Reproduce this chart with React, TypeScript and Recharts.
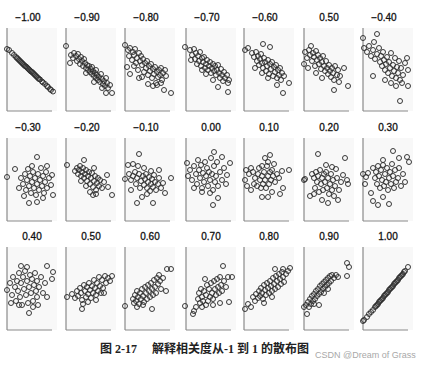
import { ScatterChart, Scatter, XAxis, YAxis, ReferenceLine, ReferenceArea } from 'recharts'

// panel titles, read left-to-right, top-to-bottom (the scan prints "0.50" in slot 6)
const titles = [
  '−1.00', '−0.90', '−0.80', '−0.70', '−0.60', '0.50', '−0.40',
  '−0.30', '−0.20', '−0.10', '0.00', '0.10', '0.20', '0.30',
  '0.40', '0.50', '0.60', '0.70', '0.80', '0.90', '1.00',
]

// points per panel: [x, y], x to the right of the y axis, y measured down from the top
type Pt = [number, number]

const rN100: Pt[] = [
  [0, 21], [2, 22], [5, 25], [7, 27], [9, 29], [10, 30], [11, 31], [12, 32], [13, 33], [14, 34],
  [15, 35], [16, 36], [17, 37], [18, 38], [19, 38.5], [20, 39.5], [21, 40.5], [22, 41.5], [23, 42.5],
  [24, 43.5], [25, 44], [26, 45], [27, 46], [28, 47], [29, 48], [30, 49], [31, 50], [32, 51],
  [33, 51.5], [35, 53.5], [36, 54.5], [38, 56], [40, 58], [41, 59], [43, 61], [44, 62], [46, 63.5],
]
const rN090: Pt[] = [
  [0, 18], [4, 35], [5, 27], [7, 30], [8, 25], [10, 28], [11, 33], [12, 26], [13, 31], [14, 36],
  [15, 29], [16, 33], [17, 38], [18, 31], [19, 35], [20, 40], [21, 37], [22, 42], [23, 38], [24, 44],
  [25, 41], [26, 46], [26, 39], [27, 43], [28, 48], [29, 45], [30, 50], [30, 42], [31, 47], [32, 52],
  [33, 49], [34, 54], [35, 46], [36, 51], [37, 56], [38, 53], [39, 58], [40, 50], [41, 55], [42, 60],
  [44, 57], [40, 65], [46, 65], [36, 60], [28, 54], [20, 45],
]
const rN080: Pt[] = [
  [0, 17], [3, 22], [5, 20], [8, 24], [10, 21], [4, 28], [7, 32], [9, 27], [12, 30], [14, 25],
  [16, 28], [2, 39], [5, 46], [9, 38], [11, 35], [13, 42], [15, 33], [17, 37], [18, 31], [19, 44],
  [20, 35], [21, 40], [22, 33], [23, 47], [24, 38], [25, 43], [26, 36], [27, 50], [28, 41], [29, 46],
  [30, 39], [31, 55], [32, 44], [33, 49], [34, 42], [35, 47], [36, 40], [37, 52], [38, 45], [40, 42],
  [41, 48], [23, 56], [28, 58], [32, 57], [36, 55], [39, 62], [46, 65], [17, 49], [14, 50],
]
const rN070: Pt[] = [
  [-1, 19], [4, 22], [6, 27], [8, 21], [10, 25], [5, 32], [9, 31], [12, 28], [14, 24], [16, 30],
  [11, 36], [13, 33], [15, 38], [17, 34], [18, 29], [19, 40], [20, 36], [21, 32], [22, 42], [23, 38],
  [24, 34], [25, 45], [26, 40], [27, 36], [28, 43], [29, 38], [30, 47], [31, 42], [32, 37], [33, 45],
  [34, 50], [35, 41], [36, 47], [37, 53], [38, 44], [39, 50], [41, 47], [42, 55], [43, 52], [42, 64],
  [32, 59], [27, 52], [20, 46], [16, 42],
]
const rN060: Pt[] = [
  [1, 22], [4, 20], [19, 16], [26, 19], [8, 25], [10, 29], [12, 24], [13, 33], [14, 28], [15, 37],
  [16, 31], [17, 26], [18, 35], [19, 40], [20, 30], [21, 34], [22, 43], [23, 38], [24, 32], [25, 46],
  [26, 36], [27, 41], [28, 34], [29, 48], [30, 39], [31, 44], [32, 37], [33, 50], [34, 42], [35, 47],
  [36, 40], [37, 52], [38, 45], [40, 48], [33, 57], [39, 65], [45, 55], [11, 40], [24, 50], [18, 45],
]
const rN050: Pt[] = [
  [7, 18], [1, 24], [3, 30], [0, 36], [5, 22], [6, 27], [8, 33], [9, 25], [10, 29], [11, 38],
  [12, 23], [13, 32], [14, 27], [15, 36], [16, 30], [17, 41], [18, 34], [19, 28], [20, 38], [21, 43],
  [22, 33], [23, 40], [24, 46], [25, 37], [26, 43], [27, 49], [28, 40], [29, 45], [30, 52], [31, 38],
  [33, 47], [34, 42], [35, 54], [36, 48], [30, 62], [44, 58], [40, 40], [12, 45], [4, 40], [18, 50],
]
const rN040: Pt[] = [
  [0, 10], [11, 14], [14, 6], [1, 20], [4, 24], [6, 18], [8, 28], [10, 22], [12, 31], [14, 26],
  [16, 20], [17, 34], [18, 28], [19, 38], [20, 24], [21, 32], [22, 42], [23, 36], [24, 29], [25, 45],
  [26, 34], [27, 40], [28, 25], [29, 48], [30, 37], [31, 43], [32, 30], [33, 50], [34, 39], [35, 45],
  [36, 33], [37, 52], [38, 40], [40, 47], [42, 35], [44, 30], [45, 42], [45, 58], [37, 73], [10, 48],
  [28, 55], [33, 58], [22, 52], [39, 55],
]
const rN030: Pt[] = [
  [0, 39], [8, 31], [30, 19], [14, 40], [16, 46], [18, 36], [19, 52], [20, 42], [21, 31], [22, 48],
  [23, 38], [24, 55], [25, 44], [26, 34], [27, 50], [28, 40], [29, 57], [30, 46], [31, 36], [32, 52],
  [33, 42], [34, 30], [35, 48], [36, 38], [37, 55], [38, 44], [39, 34], [40, 50], [42, 40], [44, 47],
  [45, 37], [46, 57], [22, 65], [30, 64], [12, 50], [17, 58], [36, 60], [25, 28], [40, 28],
]
const rN020: Pt[] = [
  [1, 27], [18, 22], [28, 30], [41, 37], [46, 57], [42, 49], [27, 57], [9, 33], [11, 30], [12, 36],
  [13, 32], [14, 28], [15, 38], [16, 34], [17, 30], [18, 40], [19, 36], [20, 32], [21, 43], [22, 38],
  [23, 34], [24, 46], [25, 40], [26, 35], [27, 49], [28, 43], [29, 38], [30, 52], [31, 45], [32, 40],
  [33, 48], [34, 42], [36, 50], [24, 54], [20, 48], [38, 44], [15, 43], [30, 56],
]
const rN010: Pt[] = [
  [14, 16], [46, 40], [0, 41], [3, 27], [8, 26], [13, 28], [19, 30], [26, 33], [4, 36], [6, 42],
  [8, 38], [10, 34], [11, 46], [12, 40], [14, 36], [15, 50], [16, 43], [18, 38], [19, 47], [20, 41],
  [21, 36], [22, 50], [23, 44], [24, 39], [25, 53], [26, 46], [27, 41], [28, 49], [29, 37], [30, 44],
  [31, 52], [33, 46], [34, 40], [36, 50], [38, 45], [40, 55], [12, 65], [28, 65], [17, 59], [6, 52],
  [34, 32], [22, 56],
]
const r000: Pt[] = [
  [1, 25], [44, 25], [27, 67], [32, 60], [28, 14], [36, 19], [2, 38], [4, 32], [6, 42], [8, 28],
  [10, 36], [11, 46], [12, 22], [13, 32], [14, 40], [15, 27], [16, 50], [17, 35], [18, 44], [19, 24],
  [20, 38], [21, 30], [22, 48], [23, 34], [24, 42], [25, 20], [26, 36], [27, 52], [28, 28], [29, 44],
  [30, 38], [31, 24], [32, 48], [34, 34], [36, 42], [38, 30], [41, 37], [16, 54], [24, 55], [8, 50],
  [40, 46],
]
const r010: Pt[] = [
  [21, 20], [26, 17], [24, 24], [30, 26], [18, 28], [28, 32], [2, 32], [5, 36], [7, 30], [9, 34],
  [10, 46], [11, 40], [13, 48], [14, 36], [15, 30], [16, 42], [17, 50], [18, 38], [19, 46], [20, 34],
  [21, 42], [22, 50], [23, 28], [24, 38], [25, 46], [26, 34], [27, 42], [28, 54], [29, 38], [31, 44],
  [33, 36], [35, 40], [38, 33], [45, 32], [39, 50], [36, 56], [18, 59], [24, 59], [3, 48], [7, 52],
  [1, 42],
]
const r020: Pt[] = [
  [14, 16], [41, 20], [0, 42], [1, 41], [22, 27], [28, 29], [32, 31], [8, 36], [10, 40], [11, 50],
  [12, 34], [13, 44], [14, 38], [15, 54], [16, 32], [17, 46], [18, 40], [19, 52], [20, 36], [21, 44],
  [22, 34], [23, 50], [24, 40], [25, 56], [26, 46], [27, 36], [28, 52], [29, 42], [30, 58], [31, 48],
  [33, 40], [35, 52], [37, 44], [43, 42], [44, 46], [24, 65], [18, 62], [34, 62], [6, 58], [10, 56],
  [39, 37],
]
const r030: Pt[] = [
  [30, 13], [44, 19], [46, 24], [36, 20], [20, 22], [0, 36], [3, 39], [5, 35], [2, 46], [10, 30],
  [12, 40], [13, 34], [14, 46], [15, 28], [16, 38], [17, 50], [18, 32], [19, 42], [20, 27], [21, 48],
  [22, 36], [23, 44], [24, 30], [25, 52], [26, 40], [27, 34], [28, 46], [29, 26], [30, 38], [31, 50],
  [32, 32], [33, 44], [35, 40], [36, 30], [38, 48], [40, 36], [42, 44], [10, 63], [15, 67], [26, 66],
  [20, 59], [8, 55],
]
const r040: Pt[] = [
  [14, 19], [20, 20], [40, 19], [46, 25], [45, 32], [22, 66], [0, 43], [40, 50], [3, 36], [5, 48],
  [6, 30], [8, 40], [9, 54], [10, 34], [11, 44], [12, 26], [13, 50], [14, 36], [15, 58], [16, 30],
  [17, 42], [18, 24], [19, 48], [20, 34], [21, 56], [22, 40], [23, 28], [24, 46], [25, 32], [26, 54],
  [27, 38], [28, 26], [29, 44], [30, 34], [31, 58], [32, 40], [34, 30], [36, 46], [38, 36], [30, 50],
  [4, 56], [12, 58], [26, 60],
]
const r050: Pt[] = [
  [1, 50], [6, 47], [9, 51], [11, 44], [12, 49], [14, 41], [15, 46], [16, 53], [17, 57], [16, 62],
  [18, 38], [19, 44], [20, 50], [21, 40], [22, 47], [23, 36], [24, 43], [25, 51], [26, 39], [27, 46],
  [28, 33], [29, 41], [30, 48], [31, 36], [32, 44], [33, 30], [34, 39], [35, 46], [36, 33], [37, 41],
  [39, 29], [40, 36], [42, 31], [44, 34], [46, 29], [30, 53], [22, 55], [38, 46],
]
const r060: Pt[] = [
  [0, 59], [42, 22], [46, 22], [41, 44], [27, 62], [8, 52], [9, 56], [10, 48], [11, 54], [12, 44],
  [13, 50], [14, 57], [15, 46], [16, 52], [17, 42], [18, 49], [19, 55], [20, 40], [21, 46], [22, 52],
  [23, 38], [24, 44], [25, 50], [26, 36], [27, 42], [28, 48], [29, 33], [30, 40], [31, 46], [32, 31],
  [33, 37], [35, 34], [36, 42], [38, 31], [34, 28], [18, 58], [12, 60],
]
const r070: Pt[] = [
  [-1, 59], [37, 19], [7, 67], [8, 64], [10, 60], [19, 32], [42, 30], [46, 30], [43, 55], [12, 52],
  [13, 46], [14, 56], [15, 42], [16, 50], [17, 54], [18, 44], [20, 48], [21, 38], [22, 54], [23, 42],
  [24, 50], [25, 36], [26, 46], [27, 52], [28, 34], [29, 42], [30, 48], [31, 32], [32, 40], [33, 46],
  [34, 30], [35, 38], [36, 44], [38, 34], [40, 40], [27, 58], [20, 58], [34, 56], [16, 60],
]
const r080: Pt[] = [
  [1, 62], [4, 57], [7, 60], [9, 50], [11, 54], [12, 47], [14, 51], [15, 44], [16, 49], [17, 41],
  [18, 46], [19, 52], [20, 38], [21, 43], [22, 48], [23, 36], [24, 41], [25, 46], [26, 34], [27, 39],
  [28, 44], [29, 31], [30, 37], [31, 42], [32, 29], [33, 34], [34, 40], [35, 27], [36, 32], [37, 37],
  [38, 25], [39, 30], [40, 35], [42, 27], [44, 24], [46, 21], [39, 22], [31, 22], [28, 50], [20, 56],
]
const r090: Pt[] = [
  [43, 16], [45, 20], [43, 29], [3, 67], [0, 60], [15, 58], [2, 58], [4, 55], [5, 60], [6, 52],
  [7, 57], [8, 49], [9, 54], [10, 47], [11, 52], [12, 44], [13, 49], [14, 42], [15, 47], [16, 39],
  [17, 45], [18, 37], [19, 42], [20, 35], [21, 40], [22, 33], [23, 38], [24, 31], [25, 36], [26, 29],
  [27, 34], [28, 28], [30, 31], [32, 28], [34, 30], [10, 57], [20, 46], [24, 42],
]
const r100: Pt[] = [
  [0, 74], [1, 73], [4, 70], [6, 67], [8, 65], [10, 63], [12, 60], [13, 59], [14, 58], [15, 57],
  [16, 55], [17, 54], [18, 53], [19, 52], [20, 51], [21, 49], [22, 48], [23, 47], [24, 46], [25, 45],
  [26, 43], [27, 42], [28, 41], [29, 40], [30, 39], [31, 37], [32, 36], [33, 35], [34, 34], [35, 33],
  [36, 31], [37, 30], [38, 29], [39, 28], [40, 27], [41, 25], [42, 24], [45, 20],
]

const panels: Pt[][] = [
  rN100, rN090, rN080, rN070, rN060, rN050, rN040,
  rN030, rN020, rN010, r000, r010, r020, r030,
  r040, r050, r060, r070, r080, r090, r100,
]

const colX = [7, 66, 125, 186, 244, 304, 363]
const rowTop = [28, 138, 247]
const PAD = 4
const H = 83
const W = 45

const Ring = (p: any) => (
  <circle cx={p.cx} cy={p.cy} r={2.5} fill="none" stroke="#2e2e2e" strokeWidth={0.95} />
)

function Panel({ pts }: { pts: Pt[] }) {
  const data = pts.map(([x, y]) => ({ x, y }))
  return (
    <ScatterChart width={64} height={92} margin={{ top: 0, right: 0, bottom: 0, left: 0 }}>
      <XAxis type="number" dataKey="x" domain={[-PAD, 60]} hide />
      <YAxis type="number" dataKey="y" domain={[-PAD, 88]} reversed hide />
      <ReferenceArea x1={0} x2={50} y1={0} y2={H} fill="#f8f8f8" fillOpacity={1} stroke="none" />
      <ReferenceLine segment={[{ x: 0, y: 0 }, { x: 0, y: H }]} stroke="#8a8a8a" strokeWidth={1.2} />
      <ReferenceLine segment={[{ x: 0, y: H }, { x: W, y: H }]} stroke="#8a8a8a" strokeWidth={1.2} />
      <Scatter data={data} shape={Ring} isAnimationActive={false} />
    </ScatterChart>
  )
}

export default function App() {
  return (
    <div style={{ position: 'absolute', left: 0, top: 0, width: 433, height: 367, background: '#fff', overflow: 'hidden' }}>
      {panels.map((pts, i) => {
        const c = i % 7
        const r = Math.floor(i / 7)
        return (
          <div key={i} style={{ position: 'absolute', left: colX[c] - PAD, top: rowTop[r] - PAD }}>
            <Panel pts={pts} />
          </div>
        )
      })}
      <svg width={433} height={367} style={{ position: 'absolute', left: 0, top: 0, pointerEvents: 'none' }}>
        {titles.map((t, i) => {
          const c = i % 7
          const r = Math.floor(i / 7)
          const neg = t.startsWith('−')
          return (
            <text
              key={i}
              x={colX[c] + (neg ? 21 : 25)}
              y={rowTop[r] - 7}
              textAnchor="middle"
              fontFamily="'Liberation Sans', Arial, sans-serif"
              fontSize={10}
              fill="#111"
              stroke="#111"
              strokeWidth={0.3}
            >
              {t}
            </text>
          )
        })}
        <text
          x={100}
          y={352.5}
          fontFamily="'Liberation Serif', 'Noto Sans CJK SC', serif"
          fontSize={12}
          fontWeight="bold"
          fill="#222"
        >
          图 2-17{'\u2003 '}解释相关度从-1 到 1 的散布图
        </text>
        <text
          x={315}
          y={357.5}
          fontFamily="'Liberation Sans', Arial, sans-serif"
          fontSize={9}
          fill="#a8a8a8"
        >
          CSDN @Dream of Grass
        </text>
      </svg>
    </div>
  )
}
